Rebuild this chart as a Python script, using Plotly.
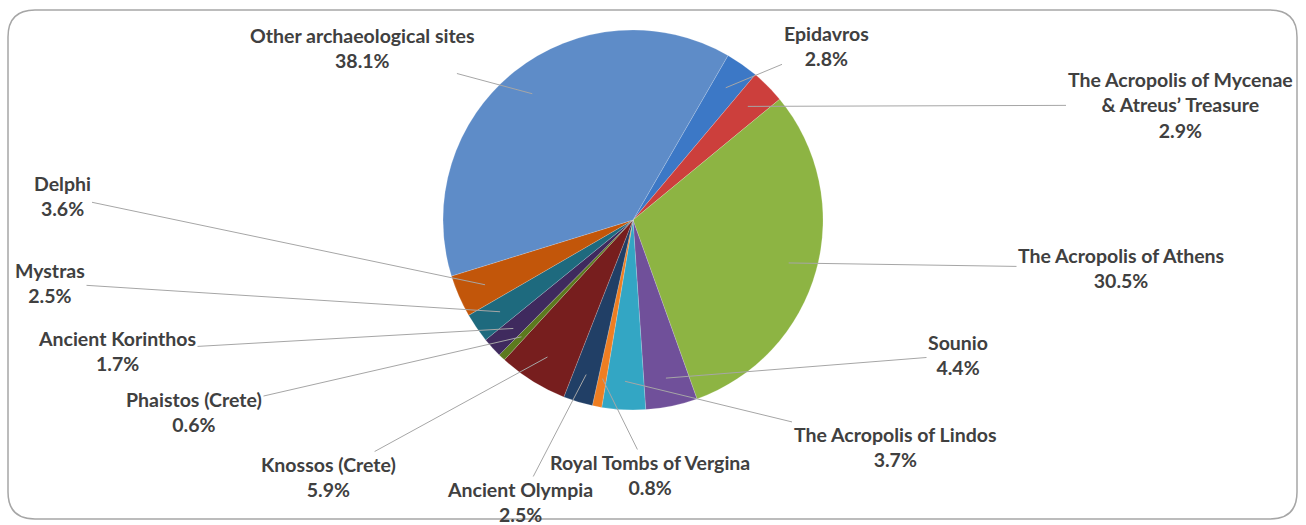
import math
import plotly.graph_objects as go

# ---- data ----
sites = [
    "Epidavros",
    "The Acropolis of Mycenae<br>& Atreus’ Treasure",
    "The Acropolis of Athens",
    "Sounio",
    "The Acropolis of Lindos",
    "Royal Tombs of Vergina",
    "Ancient Olympia",
    "Knossos (Crete)",
    "Phaistos (Crete)",
    "Ancient Korinthos",
    "Mystras",
    "Delphi",
    "Other archaeological sites",
]
shares = [2.8, 2.9, 30.5, 4.4, 3.7, 0.8, 2.5, 5.9, 0.6, 1.7, 2.5, 3.6, 38.1]
colors = [
    "#3C78C6", "#CC3F3C", "#8DB443", "#70509A", "#33A6C4", "#EE7E22",
    "#213F66", "#771E1E", "#5C7A1E", "#3F2A5E", "#1E6A7E", "#C2560A",
    "#5E8CC8",
]
# label text block centres (pixels) – layout only
label_pos = [
    (826, 46), (1180, 105), (1121, 268), (958, 355), (895, 447), (650, 475),
    (520, 502), (328, 477), (194, 412), (117, 351), (50, 283), (62, 196),
    (362, 48),
]

W, H = 1306, 525
CX, CY, R = 633, 220, 190
ROT = 30

fig = go.Figure()
fig.add_trace(go.Pie(
    labels=sites, values=shares, sort=False, direction="clockwise",
    rotation=ROT, textinfo="none", textposition="none",
    marker=dict(colors=colors, line=dict(color="rgba(255,255,255,0.35)", width=0.5)),
    domain=dict(x=[(CX - R) / W, (CX + R) / W], y=[1 - (CY + R) / H, 1 - (CY - R) / H]),
    showlegend=False, hoverinfo="label+percent",
))

total = sum(shares)
cum = 0.0
annotations = []
for name, v, (lx, ly) in zip(sites, shares, label_pos):
    mid = ROT + (cum + v / 2) / total * 360.0
    cum += v
    a = math.radians(mid)
    tr = 0.85 * R
    tx = CX + tr * math.sin(a)
    ty = CY - tr * math.cos(a)
    annotations.append(dict(
        x=tx / W, y=1 - ty / H, xref="paper", yref="paper",
        ax=lx - tx, ay=ly - ty, axref="pixel", ayref="pixel",
        text="<b>%s<br>%.1f%%</b>" % (name, v),
        showarrow=True, arrowhead=0, arrowwidth=1, arrowcolor="#A6A6A6",
        align="center", font=dict(family="Lato, Open Sans, sans-serif", size=19.5, color="#404040"),
    ))

fig.update_layout(
    width=W, height=H, margin=dict(l=0, r=0, t=0, b=0),
    paper_bgcolor="white", plot_bgcolor="white",
    annotations=annotations,
    shapes=[dict(
        type="path", xref="paper", yref="paper", layer="below",
        path=("M {a},{t} L {b},{t} Q {r},{t} {r},{c} L {r},{d} Q {r},{bt} {b},{bt} "
              "L {a},{bt} Q {l},{bt} {l},{d} L {l},{c} Q {l},{t} {a},{t} Z").format(
            l=8 / W, r=1297 / W, t=1 - 10 / H, bt=1 - 519 / H,
            a=35 / W, b=1270 / W, c=1 - 37 / H, d=1 - 492 / H),
        line=dict(color="#A6A6A6", width=1.5),
    )],
)

fig.write_html(
    "out.html",
    config={"displayModeBar": False},
    post_script="document.body.style.margin='0';document.body.style.overflow='hidden';",
)
